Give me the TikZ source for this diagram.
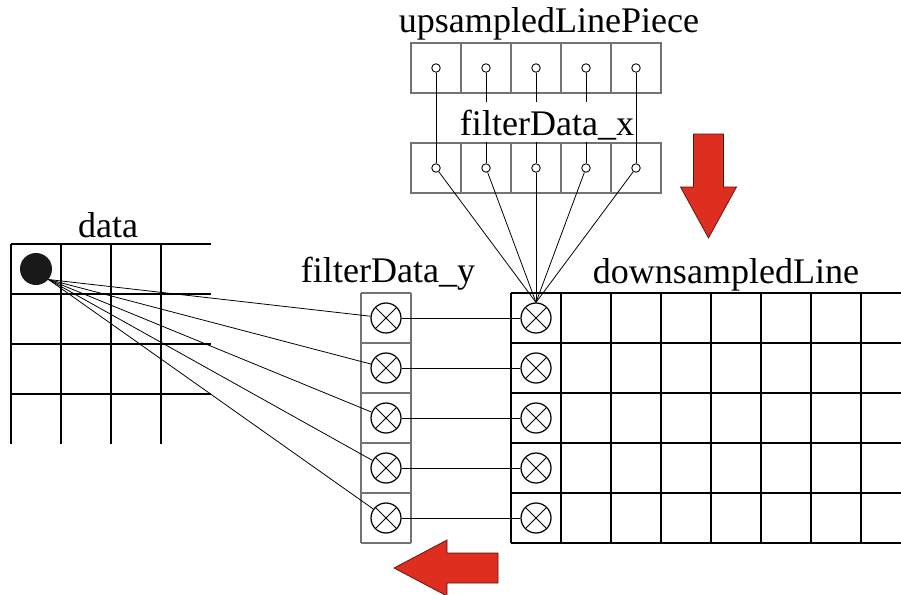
\documentclass[tikz,border=0pt]{standalone}
\usepackage{fontspec}
\setmainfont{Liberation Serif}
\definecolor{arrowred}{RGB}{221,46,31}
\tikzset{
	lbl/.style={anchor=base, inner sep=0pt, font=\fontsize{20.5}{24}\selectfont},
	tap/.style={circle, draw, line width=0.5pt, minimum size=0.17cm, inner sep=0pt},
	mul/.style={circle, draw, line width=0.7pt, minimum size=0.6cm, inner sep=0pt,
		path picture={\draw[line width=0.5pt] (path picture bounding box.north west) -- (path picture bounding box.south east)
			(path picture bounding box.south west) -- (path picture bounding box.north east);}},
	cellbox/.style={draw=black!55, line width=0.8pt},
	wire/.style={line width=0.45pt},
	bigarrow/.style={fill=arrowred, draw=black!60!arrowred, line width=0.4pt}
}
\begin{document}
\begin{tikzpicture}
	\useasboundingbox (0,0) rectangle (18.02,11.88);
	\foreach \y in {4,5,6,7} \draw[line width=1.1pt] (0.22,\y) -- (4.22,\y);
	\foreach \x in {0.22,1.22,2.22,3.22} \draw[line width=1.1pt] (\x,3) -- (\x,7);
	\node[circle, fill=black!90, minimum size=0.64cm, inner sep=0pt] (pix) at (0.72,6.5) {};
	\node[lbl] (datalbl) at (2.16,7.14) {data};
	\foreach \i in {0,...,5} \draw[line width=0.7pt] (10.22,1.02+\i) -- (18.02,1.02+\i);
	\foreach \i in {0,...,7} \draw[line width=0.7pt] (10.22+\i,1.02) -- (10.22+\i,6.02);
	\node[lbl] (dslbl) at (14.52,6.22) {downsampledLine};
	\foreach \i in {0,...,5} \draw[cellbox] (7.22,1.02+\i) -- (8.22,1.02+\i);
	\draw[cellbox] (7.22,1.02) -- (7.22,6.02) (8.22,1.02) -- (8.22,6.02);
	\node[lbl] (fylbl) at (7.76,6.24) {filterData\_y};
	\foreach \k in {1,...,5} {
		\node[mul] (fy\k) at (7.72,6.52-\k) {};
		\node[mul] (dl\k) at (10.72,6.52-\k) {};
		\draw[wire] (fy\k) -- (dl\k);
		\draw[wire] (pix.-40) -- (fy\k);
	}
	\draw[cellbox] (8.22,10.02) rectangle (13.22,11.02) (8.22,8.02) rectangle (13.22,9.02);
	\foreach \i in {1,...,4} \draw[cellbox] (8.22+\i,10.02) -- (8.22+\i,11.02) (8.22+\i,8.02) -- (8.22+\i,9.02);
	\node[lbl] (uplbl) at (10.98,11.24) {upsampledLinePiece};
	\foreach \k in {1,...,5} {
		\node[tap] (up\k) at (7.72+\k,10.52) {};
		\node[tap] (fx\k) at (7.72+\k,8.52) {};
		\draw[wire] (up\k) -- (fx\k);
		\draw[wire] (fx\k) -- (dl1.north);
	}
	\node[lbl, fill=white, text height=0.66cm, text depth=0.14cm] (fxlbl) at (10.94,9.18) {filterData\_x};
	\filldraw[bigarrow] (13.87,9.2) -- (14.47,9.2) -- (14.47,8.14) -- (14.73,8.14) -- (14.17,7.12)
		-- (13.61,8.14) -- (13.87,8.14) -- cycle;
	\filldraw[bigarrow] (7.88,0.52) -- (8.94,1.08) -- (8.94,0.82) -- (9.96,0.82) -- (9.96,0.22)
		-- (8.94,0.22) -- (8.94,-0.04) -- cycle;
\end{tikzpicture}
\end{document}
